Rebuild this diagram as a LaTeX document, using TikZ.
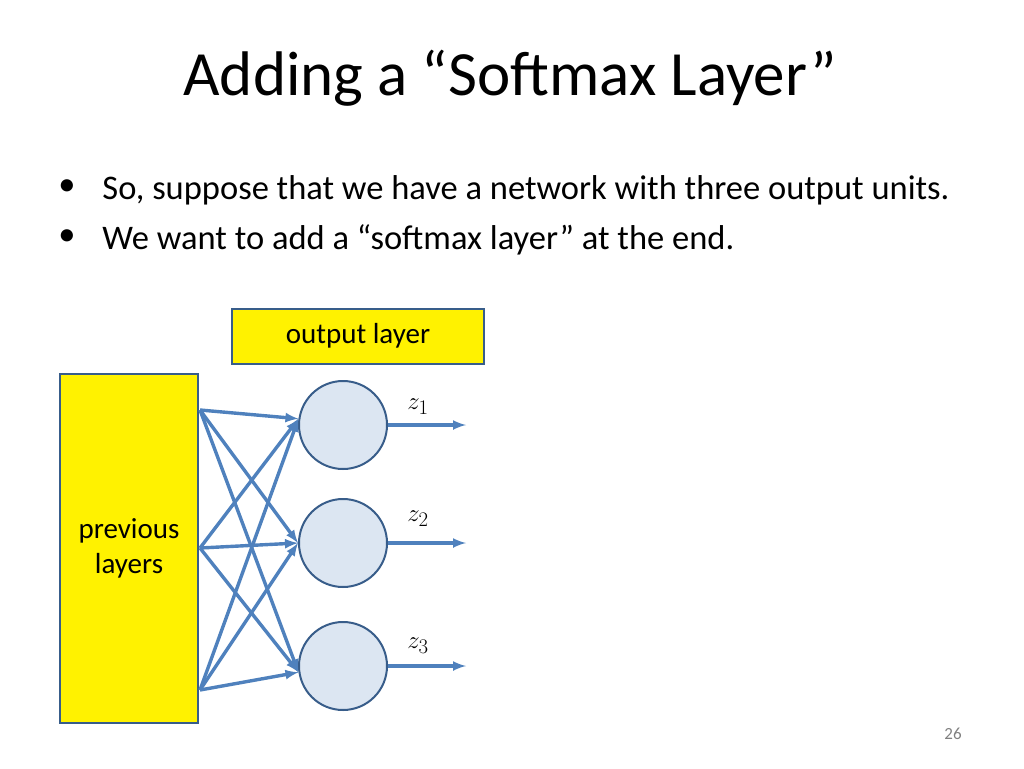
\documentclass[tikz,border=0pt]{standalone}
\usepackage{fontspec}
\setmainfont{Carlito}
\usetikzlibrary{arrows}
\definecolor{netblue}{RGB}{79,129,189}
\definecolor{unitfill}{RGB}{220,230,242}
\definecolor{unitdraw}{RGB}{56,93,138}
\begin{document}
\begin{tikzpicture}[x=1pt,y=-1pt,>=latex,
                    line width=2.2pt]
  \tikzstyle{unit}=[circle,minimum size=88pt,inner sep=0pt,fill=unitfill,draw=unitdraw,line width=2pt]
  \tikzstyle{box}=[fill=yellow,draw=unitdraw,line width=2pt,inner sep=0pt,align=center,font=\fontsize{29}{35}\selectfont]
  \tikzstyle{link}=[-{latex[scale=1.4]},draw=netblue,line width=3.4pt]

  \useasboundingbox (0,0) rectangle (1024,768);
  \node (title) at (510,78) {\fontsize{63}{72}\selectfont Adding a “Softmax Layer”};
  \node[anchor=west] (b1) at (98,190) {\fontsize{34.5}{40}\selectfont So, suppose that we have a network with three output units.};
  \node[anchor=west] (b2) at (98,240) {\fontsize{34.5}{40}\selectfont We want to add a “softmax layer” at the end.};
  \node (d1) at (67,188) {\fontsize{34.5}{40}\selectfont •};
  \node (d2) at (67,238) {\fontsize{34.5}{40}\selectfont •};

  \node[box,minimum width=138pt,minimum height=349pt] (prev) at (129,548) {previous\\layers};
  \node[box,minimum width=252pt,minimum height=55pt] (out) at (358,336) {output layer};

  \node[unit] (u1) at (343,425) {};
  \node[unit] (u2) at (343,543) {};
  \node[unit] (u3) at (343,666) {};

  \coordinate (s1) at (200,410);
  \coordinate (s2) at (200,548);
  \coordinate (s3) at (200,690);

  \foreach \s in {1,2,3}
    \foreach \u/\a in {1/172,2/180,3/188}
      \draw[link] (s\s) -- (u\u.\a);

  \foreach \u in {1,2,3}{
    \coordinate (e\u) at ([xshift=78pt]u\u.east);
    \draw[link] (u\u.east) -- (e\u);
  }
  \node (z1) at (418,407) {\fontsize{32}{36}\selectfont $z_1$};
  \node (z2) at (418,519) {\fontsize{32}{36}\selectfont $z_2$};
  \node (z3) at (418,646) {\fontsize{32}{36}\selectfont $z_3$};

  \node[text=gray] (page) at (953,734) {\fontsize{17}{20}\selectfont 26};
\end{tikzpicture}
\end{document}
